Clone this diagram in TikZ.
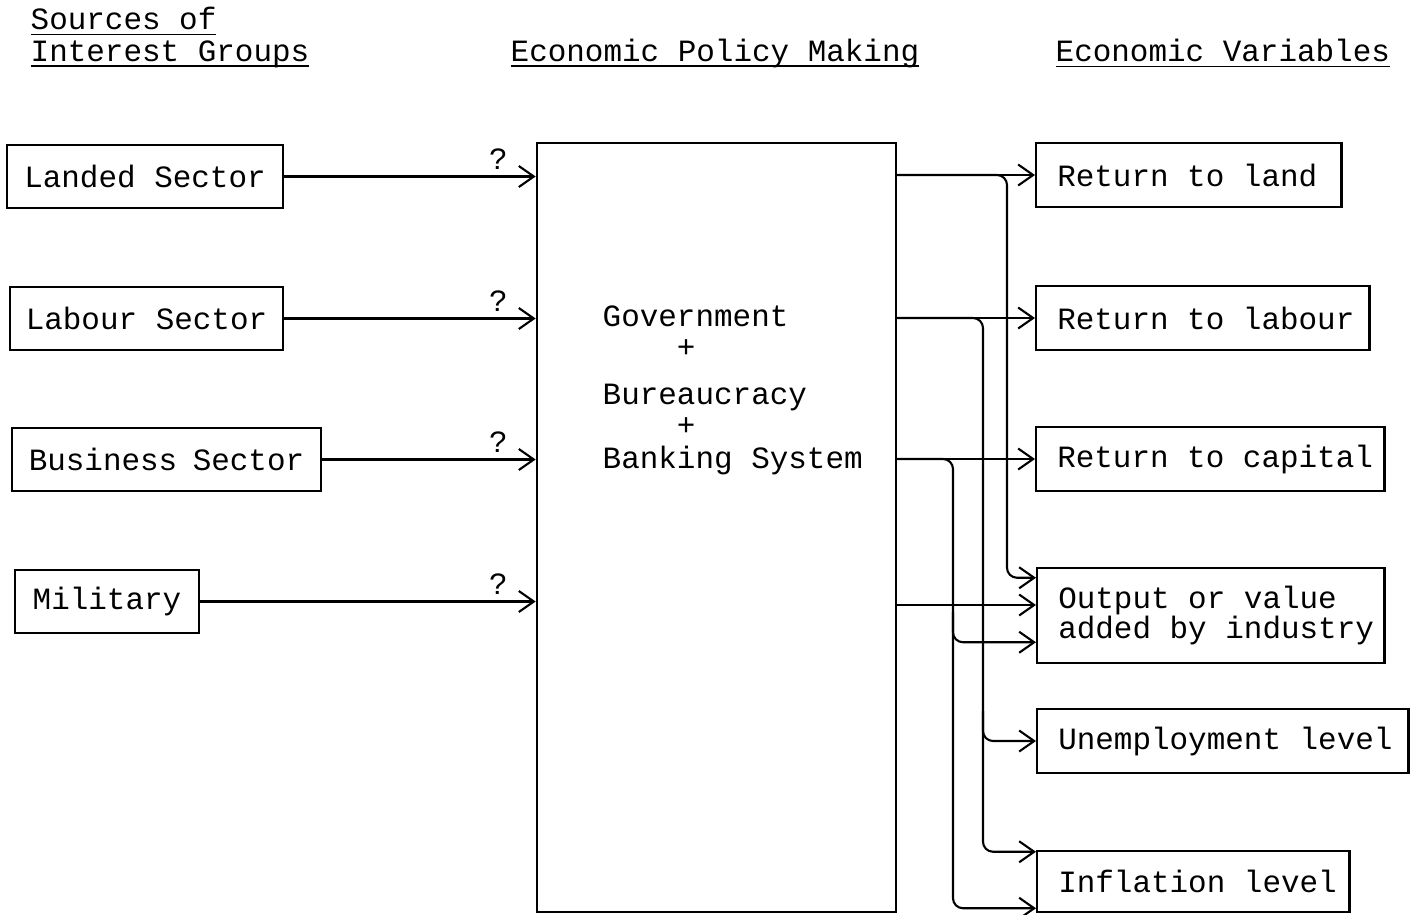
\documentclass[tikz,border=0pt]{standalone}
\usepackage{fontspec}
\setmonofont{Liberation Mono}
\usepackage{tikz}
\usetikzlibrary{arrows.meta, positioning, calc}

\begin{document}
\begin{tikzpicture}[x=0.01cm, y=-0.01cm,
    every node/.style={font=\ttfamily\fontsize{8.8pt}{8.8pt}\selectfont},
    arrow/.style={-{Straight Barb[length=0.15cm, width=0.21cm]}, line width=0.6pt},
    branch/.style={arrow, rounded corners=0.1cm},
    group_box/.style={draw, line width=0.7pt, minimum height=0.63cm},
    var_box/.style={draw, line width=0.7pt, anchor=west, align=flush left, inner xsep=0.21cm, minimum height=0.64cm},
    qmark/.style={pos=1, anchor=south east, inner sep=0pt, xshift=-0.27cm, yshift=0.06cm},
    heading/.style={anchor=base west, inner sep=0pt}
]
    \useasboundingbox (0,0) rectangle (1415,914);

    % Column headings
    \node[heading] (src_head_a) at (30,29) {\underline{Sources of}};
    \node[heading] (src_head_b) at (30,61) {\underline{\smash{Interest Groups}}};
    \node[heading] (policy_head) at (510,61) {\underline{\smash{Economic Policy Making}}};
    \node[heading] (var_head) at (1055,61) {\underline{Economic Variables}};

    % Sources of interest groups
    \node[group_box, minimum width=2.76cm] (land_src) at (145,176.5) {Landed Sector};
    \node[group_box, minimum width=2.73cm] (labour_src) at (146.5,318.5) {Labour\hspace{0.6em}Sector};
    \node[group_box, minimum width=3.09cm] (business_src) at (166.5,459.5) {Business\hspace{0.5em}Sector};
    \node[group_box, minimum width=1.84cm] (military_src) at (107,601.5) {Military};

    % Economic policy making
    \node[draw, line width=0.7pt, minimum width=3.59cm, minimum height=7.69cm] (gov_box) at (716.5,527.5) {};
    \node[anchor=north west, align=flush left, inner sep=0pt] (gov_text) at (602,305) {Government\\
        \phantom{Gove}+\\[0.16cm]
        Bureaucracy\\
        \phantom{Gove}+\\[0.02cm]
        Banking System};

    % Economic variables
    \node[var_box, text width=2.63cm] (ret_land) at (1035,175) {Return~to~land};
    \node[var_box, text width=2.91cm] (ret_labour) at (1035,318) {Return~to~labour};
    \node[var_box, text width=3.06cm] (ret_capital) at (1035,459) {Return~to~capital};
    \node[var_box, text width=3.05cm, minimum height=0.95cm] (output) at (1036,615.5) {Output or value\\added~by~industry};
    \node[var_box, text width=3.29cm] (unemp) at (1036,741) {Unemployment~level};
    \node[var_box, text width=2.70cm, minimum height=0.61cm] (infl) at (1036,881.5) {Inflation~level};

    % Entry points and drop columns on the right
    \coordinate (out_in1) at ([yshift=-0.11cm]output.north west);
    \coordinate (out_in2) at ([yshift=0.105cm]output.west);
    \coordinate (out_in3) at ([yshift=0.22cm]output.south west);
    \coordinate (infl_in1) at ([yshift=-0.02cm]infl.north west);
    \coordinate (infl_in2) at ([yshift=0.05cm]infl.south west);
    \coordinate (land_drop) at (1007,0);
    \coordinate (labour_drop) at (983,0);
    \coordinate (capital_drop) at (953,0);

    % Interest groups to policy making
    \draw[arrow] (land_src.east) -- (gov_box.west |- land_src.east) node[qmark] {?};
    \draw[arrow] (labour_src.east) -- (gov_box.west |- labour_src.east) node[qmark] {?};
    \draw[arrow] (business_src.east) -- (gov_box.west |- business_src.east) node[qmark] {?};
    \draw[arrow] (military_src.east) -- (gov_box.west |- military_src.east) node[qmark] {?};

    % Policy making to economic variables
    \draw[arrow] (gov_box.east |- ret_land.west) -- (ret_land.west);
    \draw[arrow] (gov_box.east |- ret_labour.west) -- (ret_labour.west);
    \draw[arrow] (gov_box.east |- ret_capital.west) -- (ret_capital.west);
    \draw[arrow] (gov_box.east |- out_in2) -- (out_in2);

    % Return to land also feeds output
    \draw[branch] (gov_box.east |- ret_land.west) -| (land_drop |- out_in1) -- (out_in1);

    % Return to labour also feeds unemployment and inflation
    \draw[branch] (gov_box.east |- ret_labour.west) -| (labour_drop |- infl_in1) -- (infl_in1);
    \draw[branch] ($(labour_drop |- unemp.west)+(0,-30)$) |- (unemp.west);

    % Return to capital also feeds output and inflation
    \draw[branch] (gov_box.east |- ret_capital.west) -| (capital_drop |- infl_in2) -- (infl_in2);
    \draw[branch] ($(capital_drop |- out_in3)+(0,-30)$) |- (out_in3);

\end{tikzpicture}
\end{document}
